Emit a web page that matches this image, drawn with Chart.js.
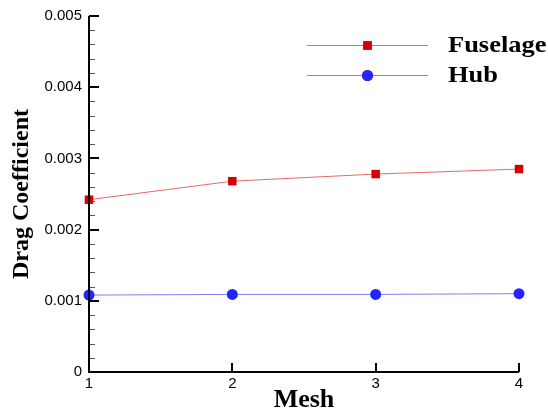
<!DOCTYPE html>
<html>
<head>
<meta charset="utf-8">
<script src="https://cdn.jsdelivr.net/npm/chart.js@4/dist/chart.umd.min.js"></script>
<style>
  html, body { margin: 0; padding: 0; background: #fff; }
  #wrap { width: 548px; height: 413px; }
</style>
</head>
<body>
<div id="wrap"><canvas id="dragChart" width="548" height="413"></canvas></div>
<script>
// ---------- Data ----------
const meshLevels = [1, 2, 3, 4];
const fuselageCd = [0.00242, 0.00268, 0.00278, 0.00285];
const hubCd = [0.00108, 0.00109, 0.00109, 0.00110];

const xTickValues = [1, 2, 3, 4];
const xTickLabels = ['1', '2', '3', '4'];
const yTickValues = [0, 0.001, 0.002, 0.003, 0.004, 0.005];
const yTickLabels = ['0', '0.001', '0.002', '0.003', '0.004', '0.005'];

const seriesNames = ['Fuselage', 'Hub'];

// ---------- Styles ----------
const serifBold = { family: '"Liberation Serif", "Times New Roman", serif', weight: 'bold' };
const tickFont = { family: '"Liberation Sans", Arial, sans-serif', size: 15 };

// axis lines + inward tick marks (Tecplot look)
const axisFrame = {
    id: 'axisFrame',
    afterDraw(chart) {
        const ctx = chart.ctx;
        const { left, right, top, bottom } = chart.chartArea;
        const xs = chart.scales.x, ys = chart.scales.y;
        ctx.save();
        ctx.lineCap = 'butt';

        // minor y ticks
        ctx.lineWidth = 1;
        ctx.strokeStyle = '#555';
        for (let i = 0; i < yTickValues.length - 1; i++) {
            const a = yTickValues[i], b = yTickValues[i + 1];
            for (let k = 1; k < 5; k++) {
                const y = Math.round(ys.getPixelForValue(a + (b - a) * k / 5)) + 0.5;
                ctx.beginPath();
                ctx.moveTo(left, y);
                ctx.lineTo(left + 6, y);
                ctx.stroke();
            }
        }

        // major ticks
        ctx.strokeStyle = '#000';
        ctx.lineWidth = 2;
        yTickValues.forEach(v => {
            const y = Math.round(ys.getPixelForValue(v));
            ctx.beginPath();
            ctx.moveTo(left, y);
            ctx.lineTo(left + 10, y);
            ctx.stroke();
        });
        xTickValues.forEach(v => {
            const x = Math.round(xs.getPixelForValue(v));
            ctx.beginPath();
            ctx.moveTo(x, bottom);
            ctx.lineTo(x, bottom - 9);
            ctx.stroke();
        });

        // axis lines
        ctx.beginPath();
        ctx.moveTo(left, top);
        ctx.lineTo(left, bottom);
        ctx.lineTo(right, bottom);
        ctx.stroke();
        ctx.restore();
    },
};

// legend drawn inside the plot, line with marker in the middle
const insideLegend = {
    id: 'insideLegend',
    afterDraw(chart) {
        const ctx = chart.ctx;
        const x0 = 307, x1 = 428, tx = 448;
        const rows = [45, 75];
        ctx.save();
        chart.data.datasets.forEach((ds, i) => {
            const y = rows[i];
            ctx.strokeStyle = ds.borderColor;
            ctx.lineWidth = 1;
            ctx.beginPath();
            ctx.moveTo(x0, y + 0.5);
            ctx.lineTo(x1, y + 0.5);
            ctx.stroke();
            Chart.helpers.drawPoint(ctx, {
                pointStyle: ds.pointStyle,
                radius: ds.pointRadius,
                borderWidth: 0,
            }, (x0 + x1) / 2, y + 0.5);
            ctx.fillStyle = ds.pointBackgroundColor;
            ctx.fill();

            // the original text is a bit wide, stretch it
            ctx.save();
            ctx.translate(tx, y + 1);
            ctx.scale(1.15, 1);
            ctx.fillStyle = '#000';
            ctx.font = 'bold 23px "Liberation Serif", "Times New Roman", serif';
            ctx.textAlign = 'left';
            ctx.textBaseline = 'middle';
            ctx.fillText(ds.label, 0, 0);
            ctx.restore();
        });
        ctx.restore();
    },
};

new Chart(document.getElementById('dragChart'), {
    type: 'line',
    data: {
        datasets: [
            {
                label: seriesNames[0],
                data: meshLevels.map((m, i) => ({ x: m, y: fuselageCd[i] })),
                borderColor: '#e86a6a',
                borderWidth: 1,
                pointStyle: 'rect',
                pointRadius: 6,
                pointBackgroundColor: '#d40000',
                pointBorderWidth: 0,
                tension: 0,
            },
            {
                label: seriesNames[1],
                data: meshLevels.map((m, i) => ({ x: m, y: hubCd[i] })),
                borderColor: '#7f7ff2',
                borderWidth: 1,
                pointStyle: 'circle',
                pointRadius: 5.5,
                pointBackgroundColor: '#2424ff',
                pointBorderWidth: 0,
                tension: 0,
            },
        ],
    },
    options: {
        responsive: false,
        animation: false,
        clip: false,
        layout: { padding: { top: 14, right: 29, left: 0, bottom: 0 } },
        plugins: {
            legend: { display: false },
            tooltip: { enabled: false },
        },
        scales: {
            x: {
                type: 'linear',
                min: 1,
                max: 4,
                afterBuildTicks: s => { s.ticks = xTickValues.map(v => ({ value: v })); },
                afterFit: s => { s.height = 41; },
                grid: { display: false, drawTicks: false },
                border: { display: false },
                ticks: {
                    color: '#000',
                    font: tickFont,
                    padding: 3,
                    maxRotation: 0,
                    callback: (v, i) => xTickLabels[i],
                },
                title: {
                    display: true,
                    text: 'Mesh',
                    color: '#000',
                    font: { ...serifBold, size: 26, lineHeight: 1 },
                    padding: { top: 0, bottom: 0 },
                },
            },
            y: {
                min: 0,
                max: 0.005,
                afterBuildTicks: s => { s.ticks = yTickValues.map(v => ({ value: v })); },
                afterFit: s => { s.width = 89; },
                grid: { display: false, drawTicks: false },
                border: { display: false },
                ticks: {
                    color: '#000',
                    font: tickFont,
                    padding: 7,
                    callback: (v, i) => yTickLabels[i],
                },
                title: {
                    display: true,
                    text: 'Drag Coefficient',
                    color: '#000',
                    font: { ...serifBold, size: 24, lineHeight: 1 },
                    padding: { top: 10, bottom: 0 },
                },
            },
        },
    },
    plugins: [axisFrame, insideLegend],
});
</script>
</body>
</html>
